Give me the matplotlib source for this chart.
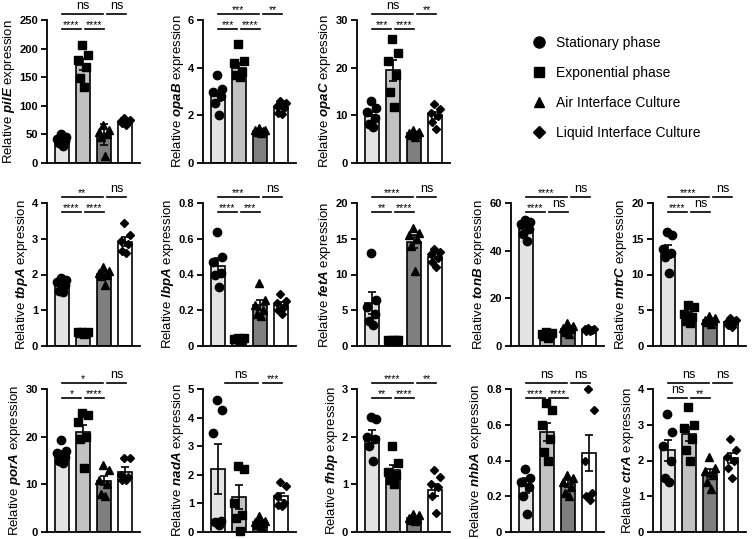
import numpy as np
import matplotlib.pyplot as plt
from matplotlib.lines import Line2D
from matplotlib.ticker import FuncFormatter

plt.rcParams['font.family'] = ['Liberation Sans', 'DejaVu Sans']
plt.rcParams['mathtext.fontset'] = 'custom'
plt.rcParams['mathtext.it'] = 'Liberation Sans:italic:bold'

groups = ["Stationary phase", "Exponential phase", "Air Interface Culture", "Liquid Interface Culture"]
markers = ["o", "s", "^", "D"]
msizes = [6.0, 5.5, 5.5, 4.2]
bar_colors = ["#e3e3e3", "#c2c2c2", "#7f7f7f", "white"]

genes = ["pilE", "opaB", "opaC",
         "tbpA", "lbpA", "fetA", "tonB", "mtrC",
         "porA", "nadA", "fhbp", "nhbA", "ctrA"]
slots = [(0, 0), (0, 1), (0, 2),
         (1, 0), (1, 1), (1, 2), (1, 3), (1, 4),
         (2, 0), (2, 1), (2, 2), (2, 3), (2, 4)]
ymax = [250, 6, 30, 4, 0.8, 20, 60, 20, 30, 5, 3, 0.8, 4]
ystep = [50, 2, 10, 1, 0.2, 5, 20, 5, 10, 1, 1, 0.2, 1]

means = {
    "pilE": [40, 172, 50, 72],
    "opaB": [2.8, 4.0, 1.35, 2.35],
    "opaC": [9.8, 19.5, 6.2, 10.0],
    "tbpA": [1.72, 0.37, 2.02, 2.92],
    "lbpA": [0.45, 0.04, 0.23, 0.23],
    "fetA": [6.0, 0.8, 14.6, 12.5],
    "tonB": [49, 4.8, 7.2, 6.8],
    "mtrC": [13.2, 4.4, 3.6, 3.3],
    "porA": [16.3, 21.0, 10.8, 12.5],
    "nadA": [2.2, 1.22, 0.35, 1.25],
    "fhbp": [2.0, 1.3, 0.3, 0.88],
    "nhbA": [0.26, 0.56, 0.27, 0.44],
    "ctrA": [2.28, 2.75, 1.65, 2.07],
}
sems = {
    "pilE": [5, 10, 19, 2],
    "opaB": [0.2, 0.2, 0.05, 0.1],
    "opaC": [1.0, 2.2, 0.3, 0.8],
    "tbpA": [0.07, 0.02, 0.05, 0.12],
    "lbpA": [0.045, 0.003, 0.03, 0.015],
    "fetA": [1.5, 0.05, 0.9, 0.4],
    "tonB": [1.5, 0.4, 0.5, 0.2],
    "mtrC": [0.9, 0.4, 0.2, 0.2],
    "porA": [0.6, 1.5, 1.0, 1.2],
    "nadA": [0.87, 0.42, 0.05, 0.12],
    "fhbp": [0.13, 0.1, 0.02, 0.13],
    "nhbA": [0.04, 0.05, 0.02, 0.1],
    "ctrA": [0.3, 0.2, 0.12, 0.15],
}
points = {
    "pilE": [[50, 45, 42, 38, 35, 30], [206, 189, 180, 168, 148, 132],
             [66, 58, 54, 50, 46, 12], [78, 76, 74, 72, 70, 66]],
    "opaB": [[3.7, 3.1, 3.0, 2.8, 2.5, 2.0], [5.0, 4.3, 4.2, 3.8, 3.7, 3.6],
             [1.45, 1.4, 1.38, 1.35, 1.3, 1.25], [2.6, 2.5, 2.4, 2.3, 2.1, 2.05]],
    "opaC": [[13, 11.5, 10.8, 9.5, 8.2, 7.5], [26, 23, 21.5, 18.5, 15, 11.7],
             [7.0, 6.6, 6.3, 6.0, 5.8, 5.5], [12.3, 11.3, 10.5, 9.8, 8.5, 7.2]],
    "tbpA": [[1.9, 1.85, 1.8, 1.7, 1.55, 1.5], [0.4, 0.39, 0.38, 0.36, 0.35, 0.33],
             [2.2, 2.1, 2.05, 2.0, 1.95, 1.7], [3.45, 3.1, 2.95, 2.85, 2.65, 2.6]],
    "lbpA": [[0.64, 0.5, 0.47, 0.41, 0.40, 0.33], [0.045, 0.042, 0.04, 0.038, 0.037, 0.035],
             [0.35, 0.26, 0.23, 0.2, 0.18, 0.17], [0.29, 0.25, 0.24, 0.22, 0.2, 0.18]],
    "fetA": [[13, 6.5, 5.5, 4.5, 3.5, 3.0], [0.9, 0.85, 0.8, 0.8, 0.75, 0.7],
             [16.5, 15.8, 15.5, 15, 14, 10.5], [13.5, 13.2, 12.8, 12.3, 11.8, 11.0]],
    "tonB": [[53, 52, 51, 49, 47, 44], [6, 5.5, 5, 4.5, 4, 3.5],
             [9.5, 8.5, 7.5, 7, 6, 5], [7.5, 7.2, 7, 6.8, 6.5, 6.2]],
    "mtrC": [[16, 15.5, 13.5, 13, 12.5, 10.2], [5.7, 5.5, 4.5, 4.0, 3.5, 3.2],
             [4.2, 3.9, 3.7, 3.5, 3.3, 3.1], [3.9, 3.6, 3.4, 3.2, 3.0, 2.7]],
    "porA": [[19.2, 17, 16.5, 15.8, 15, 14.5], [25, 24.5, 23, 20, 19.5, 13.5],
             [14, 13, 11, 10, 8, 7.5], [15.5, 15.5, 12, 11.5, 11, 11]],
    "nadA": [[4.6, 4.25, 3.45, 0.4, 0.35, 0.25], [2.3, 2.2, 1.0, 0.6, 0.5, 0.05],
             [0.55, 0.4, 0.35, 0.3, 0.25, 0.2], [1.75, 1.6, 1.25, 1.0, 0.95, 0.9]],
    "fhbp": [[2.42, 2.38, 2.0, 1.95, 1.8, 1.5], [1.8, 1.45, 1.25, 1.2, 1.1, 1.0],
             [0.38, 0.35, 0.3, 0.28, 0.26, 0.24], [1.3, 1.15, 1.0, 0.95, 0.75, 0.4]],
    "nhbA": [[0.35, 0.3, 0.28, 0.25, 0.2, 0.1], [0.72, 0.68, 0.6, 0.52, 0.45, 0.4],
             [0.32, 0.3, 0.28, 0.25, 0.22, 0.2], [0.8, 0.68, 0.4, 0.22, 0.2, 0.18]],
    "ctrA": [[3.3, 2.8, 2.4, 2.0, 1.5, 1.4], [3.5, 3.0, 2.9, 2.6, 2.3, 2.0],
             [2.1, 1.8, 1.7, 1.6, 1.4, 1.2], [2.6, 2.3, 2.1, 2.0, 1.8, 1.5]],
}
# significance: lower row (1v2, 2v3), upper row (1v3, 3v4)
sig_low = {
    "pilE": ["****", "****"], "opaB": ["***", "****"], "opaC": ["***", "****"],
    "tbpA": ["****", "****"], "lbpA": ["****", "***"], "fetA": ["**", "****"],
    "tonB": ["****", "ns"], "mtrC": ["****", "ns"], "porA": ["*", "****"],
    "nadA": None, "fhbp": ["**", "****"], "nhbA": ["****", "****"], "ctrA": ["ns", "**"],
}
sig_high = {
    "pilE": ["ns", "ns"], "opaB": ["***", "**"], "opaC": ["ns", "**"],
    "tbpA": ["**", "ns"], "lbpA": ["***", "ns"], "fetA": ["****", "ns"],
    "tonB": ["****", "ns"], "mtrC": ["****", "ns"], "porA": ["*", "ns"],
    "nadA": ["ns", "***"], "fhbp": ["****", "**"], "nhbA": ["ns", "ns"], "ctrA": ["ns", "ns"],
}

W, H = 752, 539
fig = plt.figure(figsize=(W / 100, H / 100), dpi=100)

col_left = [47, 203, 357, 511, 653]
row_top = [20, 203, 389]
ax_w, ax_h = 93, 143
jitter_order = [2, 5, 0, 4, 1, 3]


def sig_line(ax, x0, x1, level, label):
    ax.plot([x0, x1], [level, level], color="black", lw=1.2,
            transform=ax.get_xaxis_transform(), clip_on=False)
    if label == "ns":
        ax.text((x0 + x1) / 2, level + 0.012, label, ha="center", va="bottom",
                fontsize=9, transform=ax.get_xaxis_transform(), clip_on=False)
    else:
        ax.text((x0 + x1) / 2, level - 0.005, label, ha="center", va="bottom",
                fontsize=7.5, transform=ax.get_xaxis_transform(), clip_on=False)


for gene, (r, c), ym, st in zip(genes, slots, ymax, ystep):
    left = col_left[c] / W
    bottom = 1 - (row_top[r] + ax_h) / H
    ax = fig.add_axes([left, bottom, ax_w / W, ax_h / H])
    x = np.arange(4)
    ax.bar(x, means[gene], width=0.65, color=bar_colors, edgecolor="black",
           linewidth=1.2, zorder=1)
    for i in range(4):
        vals = points[gene][i]
        offs = np.linspace(-0.22, 0.22, len(vals))[jitter_order[:len(vals)]]
        ax.plot(x[i] + offs, vals, linestyle="none", marker=markers[i],
                markersize=msizes[i], color="black", zorder=3, clip_on=False)
    ax.errorbar(x, means[gene], yerr=sems[gene], fmt="none", ecolor="black",
                elinewidth=1.2, capsize=3, capthick=1.2, zorder=4)
    ax.set_xlim(-0.7, 3.7)
    ax.set_ylim(0, ym)
    ax.set_yticks(np.arange(0, ym + st / 2, st))
    ax.yaxis.set_major_formatter(FuncFormatter(lambda v, p: f"{v:g}"))
    ax.set_xticks([])
    for s in ["top", "right"]:
        ax.spines[s].set_visible(False)
    for s in ["left", "bottom"]:
        ax.spines[s].set_linewidth(1.3)
    ax.tick_params(axis="y", labelsize=8, width=1.3, length=4, pad=2.5)
    for lab in ax.get_yticklabels():
        lab.set_fontweight("bold")
    ax.set_ylabel(f"Relative $\\mathit{{{gene}}}$ expression", fontsize=9.5, labelpad=1.5)

    low = sig_low[gene]
    if low:
        sig_line(ax, 0.0, 0.92, 0.937, low[0])
        sig_line(ax, 1.08, 2.0, 0.937, low[1])
    high = sig_high[gene]
    if gene == "nadA":
        sig_line(ax, 0.32, 1.9, 1.042, high[0])
    else:
        sig_line(ax, 0.0, 1.95, 1.042, high[0])
    sig_line(ax, 2.15, 3.05, 1.042, high[1])

handles = [Line2D([], [], linestyle="none", marker=m, color="black",
                  markersize=ms + 2) for m, ms in zip(markers, msizes)]
fig.legend(handles, groups, loc="upper left", frameon=False,
           bbox_to_anchor=(525 / W, 1 - 29 / H), fontsize=10,
           labelspacing=1.15, handlelength=1.0, handletextpad=0.7, borderpad=0)

fig.savefig("out.png", dpi=100)
